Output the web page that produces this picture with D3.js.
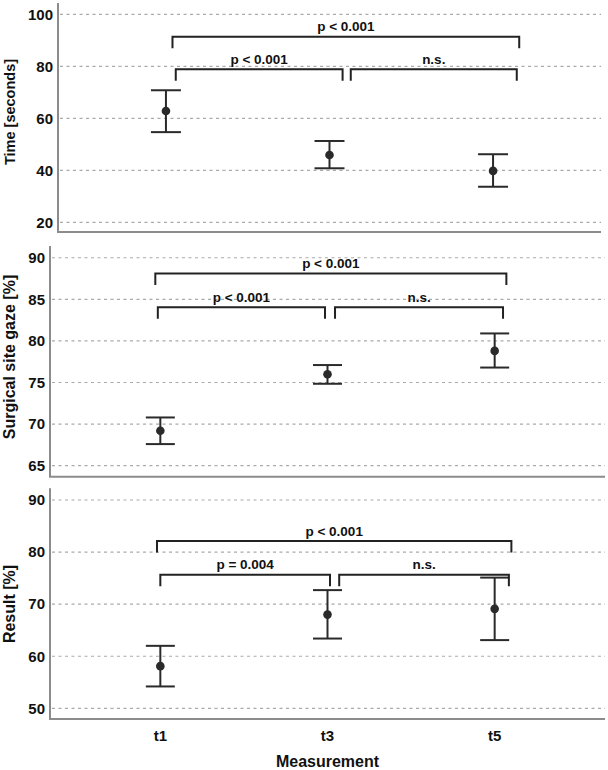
<!DOCTYPE html>
<html lang="en">
<head>
  <meta charset="UTF-8" />
  <title>Measurement means with 95% CI</title>
  <script src="https://d3js.org/d3.v7.min.js"></script>
  <style>
    body{margin:0;background:#fff}
    svg{display:block;font-family:"Liberation Sans",Arial,sans-serif;font-weight:700}
    .grid{stroke:#aaa;stroke-width:1.2;stroke-dasharray:3,3.5}
    .axisline{stroke:#8c8c8c;stroke-width:2;fill:none}
    .bar{stroke:#2a2a2a;stroke-width:2;fill:none}
    .bracket{stroke:#222;stroke-width:2;fill:none}
  </style>
</head>
<body>
  <div id="chart"></div>
  <script>
    const categories = ["t1", "t3", "t5"];

    // Time [seconds]
    const timeMean = [62.8, 45.9, 39.8];
    const timeLow  = [54.7, 40.8, 33.7];
    const timeHigh = [70.8, 51.3, 46.2];
    const timeTicks = [20, 40, 60, 80, 100];

    // Surgical site gaze [%]
    const gazeMean = [69.2, 76.0, 78.8];
    const gazeLow  = [67.6, 74.85, 76.8];
    const gazeHigh = [70.8, 77.1, 80.9];
    const gazeTicks = [65, 70, 75, 80, 85, 90];

    // Result [%]
    const resultMean = [58.1, 68.0, 69.1];
    const resultLow  = [54.2, 63.4, 63.1];
    const resultHigh = [62.0, 72.7, 75.1];
    const resultTicks = [50, 60, 70, 80, 90];

    // significance brackets: [from (category index), to, level, label]
    const timeBrackets = [[0.04, 2.16, 91.4, "p < 0.001"], [0.06, 1.08, 78.85, "p < 0.001"], [1.13, 2.145, 78.85, "n.s."]];
    const gazeBrackets = [[-0.03, 2.07, 88.1, "p < 0.001"], [-0.015, 0.985, 84.04, "p < 0.001"], [1.045, 2.05, 84.04, "n.s."]];
    const resultBrackets = [[-0.02, 2.10, 82.13, "p < 0.001"], [0.0, 1.015, 75.66, "p = 0.004"], [1.07, 2.085, 75.66, "n.s."]];

    const panels = [
      {title: "Time [seconds]", titleSize: 14.5, titleY: 112, mean: timeMean, low: timeLow, high: timeHigh, ticks: timeTicks,
       brackets: timeBrackets, domain: [16.3, 104.35], x0: 58, x1: 601, y0: 3, y1: 232, cap: 15},
      {title: "Surgical site gaze [%]", titleSize: 16, titleY: 357, mean: gazeMean, low: gazeLow, high: gazeHigh, ticks: gazeTicks,
       brackets: gazeBrackets, domain: [63.68, 91.41], x0: 50, x1: 605, y0: 246, y1: 476.7, cap: 14.5},
      {title: "Result [%]", titleSize: 16, titleY: 604, mean: resultMean, low: resultLow, high: resultHigh, ticks: resultTicks,
       brackets: resultBrackets, domain: [47.95, 92.25], x0: 50, x1: 605, y0: 488.3, y1: 719, cap: 14.5}
    ];

    const svg = d3.select("#chart").append("svg").attr("width", 608).attr("height", 770);

    panels.forEach((p, pi) => {
      const g = svg.append("g");
      const x = d3.scalePoint().domain(categories).range([p.x0, p.x1]).padding(0.66);
      const xi = d3.scaleLinear().domain([0, 2]).range([x(categories[0]), x(categories[2])]);
      const y = d3.scaleLinear().domain(p.domain).range([p.y1, p.y0]);

      // gridlines
      g.selectAll(".grid").data(p.ticks).enter().append("line").attr("class", "grid")
        .attr("x1", p.x0 + 2).attr("x2", p.x1).attr("y1", d => y(d)).attr("y2", d => y(d));

      // axis with labels only
      const ax = g.append("g").attr("transform", `translate(${p.x0},0)`)
        .call(d3.axisLeft(y).tickValues(p.ticks).tickSize(0).tickPadding(5));
      ax.select(".domain").remove();
      ax.selectAll("text").attr("font-size", 15).attr("font-family", "Liberation Sans, Arial, sans-serif")
        .attr("font-weight", 700).attr("fill", "#111");

      g.append("path").attr("class", "axisline")
        .attr("d", `M${p.x0},${p.y0}V${p.y1}H${p.x1}`);

      g.append("text").attr("transform", `translate(${15},${p.titleY}) rotate(-90)`)
        .attr("text-anchor", "middle").attr("font-size", p.titleSize).attr("fill", "#111").text(p.title);

      // error bars
      const rows = categories.map((c, i) => ({c, m: p.mean[i], lo: p.low[i], hi: p.high[i]}));
      const eb = g.selectAll(".eb").data(rows).enter().append("g");
      eb.append("line").attr("class", "bar").attr("x1", d => x(d.c)).attr("x2", d => x(d.c))
        .attr("y1", d => y(d.lo)).attr("y2", d => y(d.hi));
      eb.append("line").attr("class", "bar").attr("x1", d => x(d.c) - p.cap).attr("x2", d => x(d.c) + p.cap)
        .attr("y1", d => y(d.lo)).attr("y2", d => y(d.lo));
      eb.append("line").attr("class", "bar").attr("x1", d => x(d.c) - p.cap).attr("x2", d => x(d.c) + p.cap)
        .attr("y1", d => y(d.hi)).attr("y2", d => y(d.hi));
      eb.append("circle").attr("cx", d => x(d.c)).attr("cy", d => y(d.m)).attr("r", 4.3).attr("fill", "#2a2a2a");

      // brackets
      const br = g.selectAll(".br").data(p.brackets).enter().append("g");
      br.append("path").attr("class", "bracket")
        .attr("d", d => `M${xi(d[0])},${y(d[2]) + 11.5}V${y(d[2])}H${xi(d[1])}V${y(d[2]) + 11.5}`);
      br.append("text").attr("x", d => (xi(d[0]) + xi(d[1])) / 2).attr("y", d => y(d[2]) - 5.5)
        .attr("text-anchor", "middle").attr("font-size", 13.5).attr("fill", "#111").text(d => d[3]);

      if (pi === panels.length - 1) {
        g.selectAll(".xl").data(categories).enter().append("text")
          .attr("x", d => x(d)).attr("y", 741).attr("text-anchor", "middle")
          .attr("font-size", 15).attr("fill", "#111").text(d => d);
        g.append("text").attr("x", (p.x0 + p.x1) / 2).attr("y", 767).attr("text-anchor", "middle")
          .attr("font-size", 16).attr("fill", "#111").text("Measurement");
      }
    });
  </script>
</body>
</html>
